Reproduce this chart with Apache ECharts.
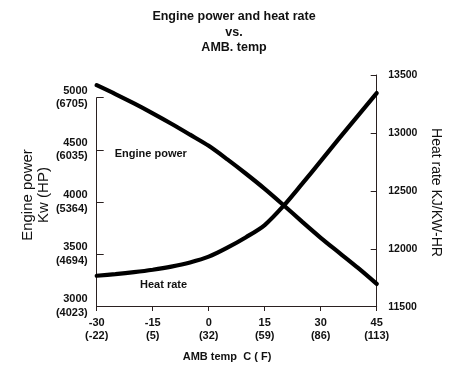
<!DOCTYPE html>
<html>
<head>
<meta charset="utf-8">
<script src="https://cdn.jsdelivr.net/npm/echarts@6/dist/echarts.min.js"></script>
<style>
html,body{margin:0;padding:0;background:#fff;}
#c{width:460px;height:385px;}
</style>
</head>
<body>
<div id="c"></div>
<script>
// Temperature ticks (C) and their Fahrenheit equivalents
var tempTicksC = [-30, -15, 0, 15, 30, 45];
var tempTicksF = [-22, 5, 32, 59, 86, 113];
// Engine power ticks (kW) and HP equivalents
var powerTicksKw = [3000, 3500, 4000, 4500, 5000];
var powerTicksHp = [4023, 4694, 5364, 6035, 6705];
// Heat rate ticks
var heatTicks = [11500, 12000, 12500, 13000, 13500];

// Curve sample temperatures (C)
var temps = [-30, -25, -20, -15, -10, -5, 0, 5, 10, 15, 20, 25, 30, 35, 40, 45];
// Engine power, kW
var enginePower = [5120, 5035, 4945, 4850, 4750, 4645, 4538, 4408, 4270, 4125, 3970, 3810, 3655, 3510, 3365, 3212];
// Heat rate, KJ/KW-HR
var heatRate = [11767, 11781, 11798, 11819, 11846, 11882, 11932, 12010, 12100, 12205, 12369, 12560, 12756, 12955, 13150, 13344];

var FONT = '"Liberation Sans", Arial, Helvetica, sans-serif';
var INK = '#111';
var AX = '#2a2020';

function pairs(xs, ys) { return xs.map(function (x, i) { return [x, ys[i]]; }); }

var chart = echarts.init(document.getElementById('c'), null, {renderer: 'canvas'});
var option = {
  backgroundColor: '#fff',
  animation: false,
  grid: [
    {left: 96.7, right: 83.3, top: 97.7, bottom: 79},
    {left: 96.7, right: 83.3, top: 75, bottom: 78.3}
  ],
  xAxis: [
    {
      type: 'value', gridIndex: 0, min: -30, max: 45, interval: 15,
      axisLine: {show: true, onZero: false, lineStyle: {color: AX, width: 1}},
      axisTick: {show: true, inside: false, length: 5, lineStyle: {color: AX}},
      splitLine: {show: false},
      axisLabel: {
        margin: 11, color: INK, fontFamily: FONT, fontSize: 11, fontWeight: 'bold', lineHeight: 12.7,
        formatter: function (v) {
          var i = tempTicksC.indexOf(v);
          return v + '\n(' + (i >= 0 ? tempTicksF[i] : '') + ')';
        }
      }
    },
    {
      type: 'value', gridIndex: 1, min: -30, max: 45, interval: 15, show: false,
      axisLine: {onZero: false}
    }
  ],
  yAxis: [
    {
      type: 'value', gridIndex: 0, min: 3000, max: 5000, interval: 500, position: 'left',
      axisLine: {show: true, onZero: false, lineStyle: {color: AX, width: 1}},
      axisTick: {show: true, inside: true, length: 7, lineStyle: {color: AX}},
      splitLine: {show: false},
      axisLabel: {
        margin: 9, color: INK, fontFamily: FONT, fontSize: 11, fontWeight: 'bold', lineHeight: 13.3,
        formatter: function (v) {
          var i = powerTicksKw.indexOf(v);
          return v + '\n(' + (i >= 0 ? powerTicksHp[i] : '') + ')';
        }
      }
    },
    {
      type: 'value', gridIndex: 1, min: 11500, max: 13500, interval: 500, position: 'right',
      axisLine: {show: true, onZero: false, lineStyle: {color: AX, width: 1}},
      axisTick: {show: true, inside: true, length: 6, lineStyle: {color: AX}},
      splitLine: {show: false},
      axisLabel: {
        margin: 11.5, color: INK, fontFamily: FONT, fontSize: 10.5, fontWeight: 'bold',
        formatter: function (v) { return heatTicks.indexOf(v) >= 0 ? String(v) : ''; }
      }
    }
  ],
  series: [
    {
      name: 'Engine power', type: 'line', xAxisIndex: 0, yAxisIndex: 0,
      data: pairs(temps, enginePower), smooth: 0.3, showSymbol: false, clip: false,
      lineStyle: {color: '#000', width: 4.2, cap: 'round'}
    },
    {
      name: 'Heat rate', type: 'line', xAxisIndex: 1, yAxisIndex: 1,
      data: pairs(temps, heatRate), smooth: 0.3, showSymbol: false, clip: false,
      lineStyle: {color: '#000', width: 4.2, cap: 'round'}
    }
  ],
  graphic: [
    {type: 'text', x: 234, y: 16.7, style: {text: 'Engine power and heat rate', font: 'bold 12.5px ' + FONT, fill: INK, textAlign: 'center', textVerticalAlign: 'middle'}},
    {type: 'text', x: 234, y: 32.5, style: {text: 'vs.', font: 'bold 12.5px ' + FONT, fill: INK, textAlign: 'center', textVerticalAlign: 'middle'}},
    {type: 'text', x: 234, y: 47.7, style: {text: 'AMB. temp', font: 'bold 12.5px ' + FONT, fill: INK, textAlign: 'center', textVerticalAlign: 'middle'}},
    {type: 'text', x: 227, y: 356.7, style: {text: 'AMB temp  C ( F)', font: 'bold 11px ' + FONT, fill: INK, textAlign: 'center', textVerticalAlign: 'middle'}},
    {type: 'text', x: 28.3, y: 195, rotation: Math.PI / 2, style: {text: 'Engine power', font: '15px ' + FONT, fill: INK, textAlign: 'center', textVerticalAlign: 'middle'}},
    {type: 'text', x: 43.8, y: 195, rotation: Math.PI / 2, style: {text: 'Kw (HP)', font: '15px ' + FONT, fill: INK, textAlign: 'center', textVerticalAlign: 'middle'}},
    {type: 'text', x: 435.7, y: 192.5, rotation: -Math.PI / 2, style: {text: 'Heat rate KJ/KW-HR', font: '14px ' + FONT, fill: INK, textAlign: 'center', textVerticalAlign: 'middle'}},
    {type: 'text', x: 150.8, y: 154.3, style: {text: 'Engine power', font: 'bold 11px ' + FONT, fill: INK, textAlign: 'center', textVerticalAlign: 'middle'}},
    {type: 'text', x: 163.6, y: 285, style: {text: 'Heat rate', font: 'bold 11px ' + FONT, fill: INK, textAlign: 'center', textVerticalAlign: 'middle'}}
  ]
};
chart.setOption(option);
</script>
</body>
</html>
